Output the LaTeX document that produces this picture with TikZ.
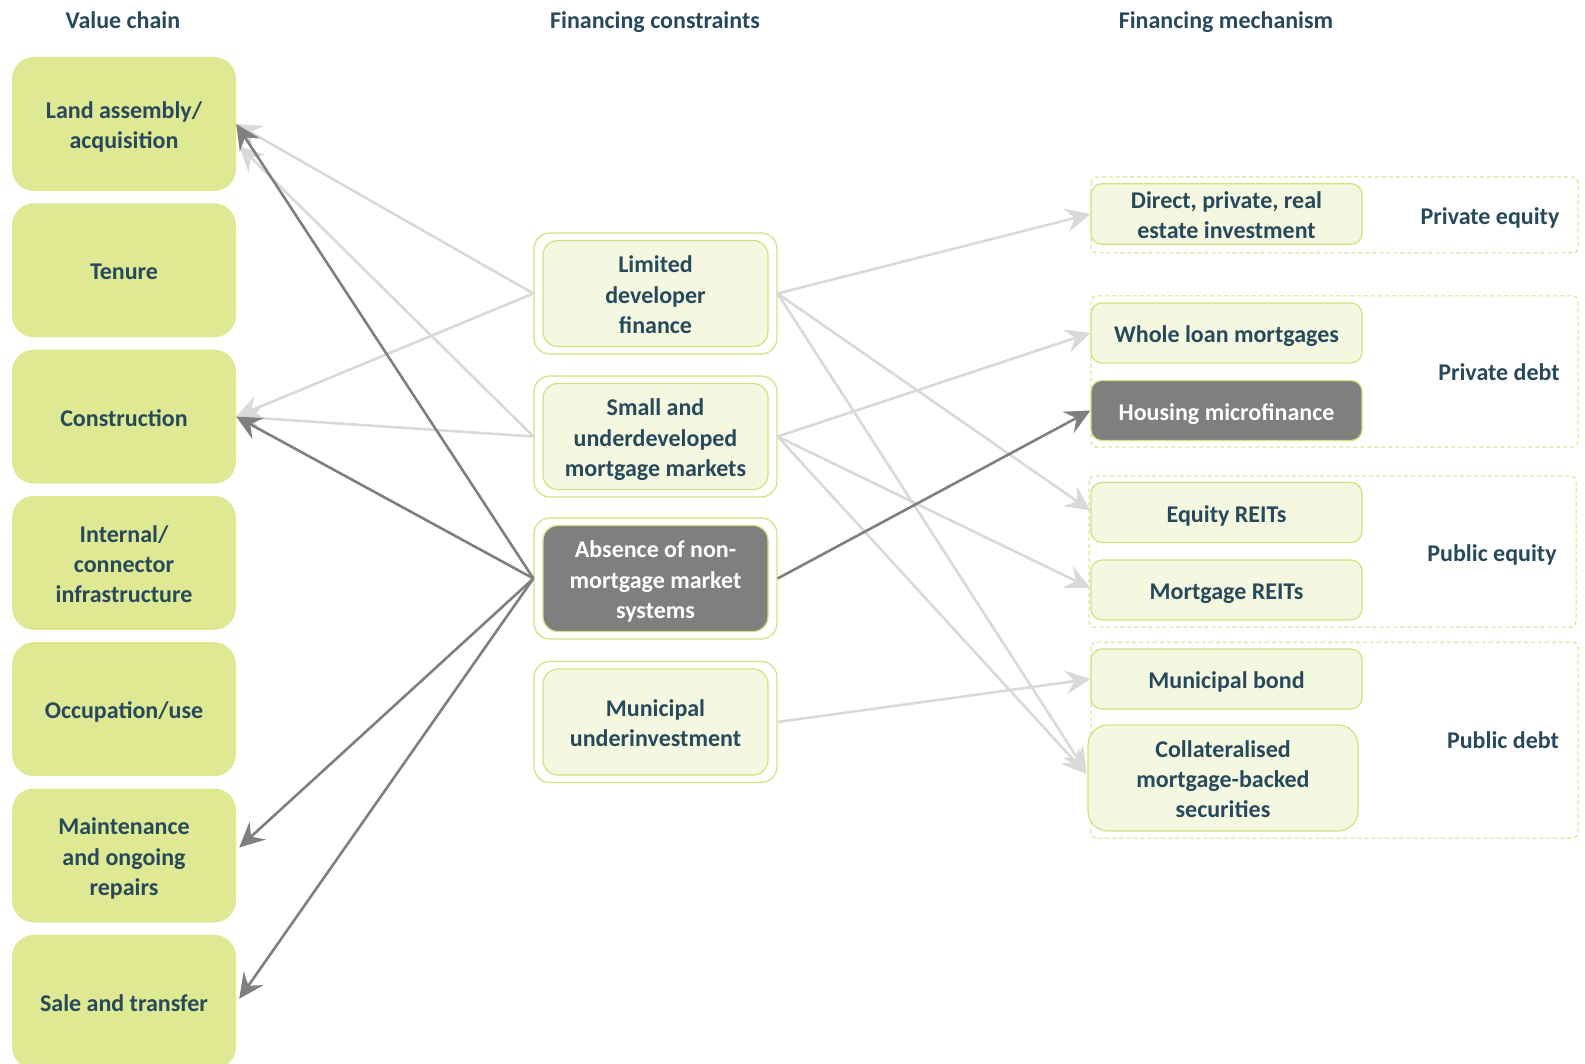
\documentclass[tikz,border=0pt]{standalone}
\usepackage{fontspec}
\setmainfont{Carlito}
\usetikzlibrary{arrows.meta}
\definecolor{txt}{HTML}{27495C}
\definecolor{leaf}{HTML}{DFE893}
\definecolor{pale}{HTML}{F5F8E0}
\definecolor{rim}{HTML}{D3E17C}
\definecolor{slate}{HTML}{7F7F7F}
\definecolor{faint}{HTML}{D9D9D9}
% centred lines with uniform line boxes; the ink is lowered by #1
% while the box keeps its natural size, so the node stays put
\newcommand\tx[2][3.5pt]{\raisebox{-#1}[\height][\depth]{\begin{tabular}{@{}c@{}}#2\end{tabular}}}
\begin{document}
\begin{tikzpicture}[x=1pt,y=-1pt,
  font=\fontsize{24}{30.3}\selectfont\bfseries,
  every node/.style={text=txt, inner sep=0pt},
  vc/.style={fill=leaf, rounded corners=22pt, minimum width=224pt, minimum height=134pt},
  outerbox/.style={draw=rim, line width=1.2pt, fill=white, rounded corners=16pt, minimum width=243pt, minimum height=121pt},
  innerbox/.style={draw=rim, line width=1.2pt, fill=pale, rounded corners=15pt, minimum width=225pt, minimum height=106pt},
  darkbox/.style={fill=slate, text=white},
  mech/.style={draw=rim, line width=1.2pt, fill=pale, rounded corners=11pt, minimum width=271pt, minimum height=60pt},
  group/.style={draw=rim, line width=1pt, dash pattern=on 4pt off 3pt, rounded corners=5pt},
  faintarrow/.style={draw=faint, line width=2.6pt, -{Stealth[length=25pt,width=24pt,inset=9pt]}},
  darkarrow/.style={faintarrow, draw=slate}]
\useasboundingbox (0,0) rectangle (1585,1064);

% column headings
\node (h1) at (123,20) {\tx[2pt]{Value chain}};
\node (h2) at (655,20) {\tx[2pt]{Financing constraints}};
\node (h3) at (1226,20) {\tx[2pt]{Financing mechanism}};

% value chain
\node[vc] (v1) at (124,124.0) {\tx{Land assembly/\\acquisition}};
\node[vc] (v2) at (124,270.3) {\tx{Tenure}};
\node[vc] (v3) at (124,416.6) {\tx{Construction}};
\node[vc] (v4) at (124,562.9) {\tx{Internal/\\connector\\infrastructure}};
\node[vc] (v5) at (124,709.2) {\tx{Occupation/use}};
\node[vc] (v6) at (124,855.5) {\tx{Maintenance\\and ongoing\\repairs}};
\node[vc] (v7) at (124,1001.8) {\tx{Sale and transfer}};

% financing constraints
\node[outerbox] (m1o) at (655.5,293.5) {};
\node[innerbox] (m1) at (655.5,293.5) {\tx{Limited\\developer\\finance}};
\node[outerbox] (m2o) at (655.5,436.5) {};
\node[innerbox] (m2) at (655.5,436.5) {\tx{Small and\\underdeveloped\\mortgage markets}};
\node[outerbox] (m3o) at (655.5,578.5) {};
\node[innerbox,darkbox] (m3) at (655.5,578.5) {\tx{Absence of non-\\mortgage market\\systems}};
\node[outerbox] (m4o) at (655.5,722) {};
\node[innerbox] (m4) at (655.5,722) {\tx{Municipal\\underinvestment}};

% financing mechanism groups
\draw[group] (1091,177) rectangle (1578,253);
\draw[group] (1091,296) rectangle (1578,447);
\draw[group] (1089,476) rectangle (1576,627);
\draw[group] (1091,642) rectangle (1578,838);
\node (g1) at (1490,217) {\tx[1pt]{Private equity}};
\node (g2) at (1499,373) {\tx[1pt]{Private debt}};
\node (g3) at (1492,554) {\tx[1pt]{Public equity}};
\node (g4) at (1503,741) {\tx[1pt]{Public debt}};

\node[mech] (r1) at (1226.5,214) {\tx{Direct, private, real\\estate investment}};
\node[mech] (r2) at (1226.5,333) {\tx{Whole loan mortgages}};
\node[mech,darkbox] (r3) at (1226.5,410.5) {\tx{Housing microfinance}};
\node[mech] (r4) at (1226.5,512.5) {\tx{Equity REITs}};
\node[mech] (r5) at (1226.5,590) {\tx{Mortgage REITs}};
\node[mech] (r6) at (1226.5,679) {\tx{Municipal bond}};
\node[mech, minimum width=270pt, minimum height=106pt, rounded corners=20pt] (r7) at (1223,778) {\tx{Collateralised\\mortgage-backed\\securities}};

% light connectors
\draw[faintarrow] (m1o.west) -- (v1.east);
\draw[faintarrow] (m2o.west) -- ([xshift=3pt,yshift=-22pt]v1.east);
\draw[faintarrow] (m1o.west) -- (v3.east);
\draw[faintarrow] (m2o.west) -- (v3.east);
\draw[faintarrow] (m1o.east) -- (r1.west);
\draw[faintarrow] (m1o.east) -- ([yshift=2pt]r4.west);
\draw[faintarrow] (m1o.east) -- ([xshift=-1pt,yshift=6pt]r7.west);
\draw[faintarrow] (m2o.east) -- (r2.west);
\draw[faintarrow] (m2o.east) -- ([yshift=2pt]r5.west);
\draw[faintarrow] (m2o.east) -- ([xshift=-1pt,yshift=4pt]r7.west);
\draw[faintarrow] (m4o.east) -- (r6.west);

% dark connectors
\draw[darkarrow] (m3o.west) -- (v1.east);
\draw[darkarrow] (m3o.west) -- (v3.east);
\draw[darkarrow] (m3o.west) -- ([xshift=3pt,yshift=8pt]v6.east);
\draw[darkarrow] (m3o.west) -- ([xshift=3pt,yshift=3pt]v7.east);
\draw[darkarrow] (m3o.east) -- (r3.west);
\end{tikzpicture}
\end{document}
